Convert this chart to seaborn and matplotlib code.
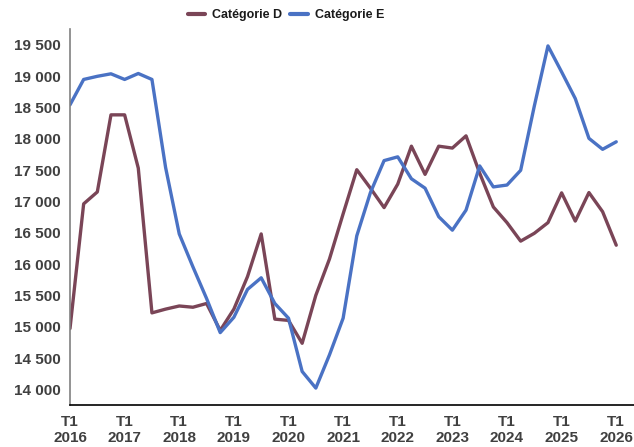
import numpy as np
import pandas as pd
import matplotlib
matplotlib.use("Agg")
import matplotlib.pyplot as plt
import seaborn as sns

# Quarterly values, T1 2016 -> T1 2026
years = list(range(2016, 2027))
cat_d = [14970, 16960, 17150, 18380, 18380, 17530, 15220, 15280, 15330, 15310,
         15370, 14940, 15280, 15800, 16480, 15120, 15100, 14735, 15500, 16080,
         16800, 17505, 17210, 16900, 17275, 17880, 17430, 17880, 17850, 18045,
         17450, 16910, 16660, 16365, 16490, 16660, 17135, 16685, 17140, 16835,
         16300]
cat_e = [18540, 18945, 18995, 19035, 18945, 19040, 18945, 17540, 16480, 15955,
         15450, 14905, 15150, 15595, 15780, 15370, 15135, 14285, 14020, 14550,
         15135, 16450, 17140, 17650, 17710, 17360, 17210, 16755, 16540, 16860,
         17565, 17230, 17260, 17495, 18520, 19480, 19065, 18640, 18005, 17830,
         17950]

df = pd.DataFrame({
    "q": np.arange(len(cat_d)),
    "Catégorie D": cat_d,
    "Catégorie E": cat_e,
}).melt(id_vars="q", var_name="serie", value_name="valeur")

sns.set_style("white")
plt.rcParams["font.family"] = ["Liberation Sans", "DejaVu Sans"]

fig = plt.figure(figsize=(6.34, 4.47), dpi=100)
ax = fig.add_axes([70 / 634, 1 - 405 / 447, (634 - 70) / 634, (405 - 29) / 447])

sns.lineplot(data=df, x="q", y="valeur", hue="serie", ax=ax,
             palette={"Catégorie D": "#7A4557", "Catégorie E": "#4A72C4"},
             linewidth=2.4, legend=True)

ax.set_xlim(0, 41.3)
ax.set_ylim(13750, 19750)
ax.set_xticks(np.arange(0, 41, 4))
ax.set_xticklabels([f"T1\n{y}" for y in years])
yt = np.arange(14000, 19501, 500)
ax.set_yticks(yt)
ax.set_yticklabels([f"{v:,}".replace(",", " ") for v in yt])
ax.set_xlabel("")
ax.set_ylabel("")

for lab in ax.get_xticklabels() + ax.get_yticklabels():
    lab.set_fontweight("bold")
    lab.set_fontsize(11)
    lab.set_color("#404040")
ax.tick_params(axis="x", direction="out", length=4, width=0.8, color="black", pad=3)
ax.tick_params(axis="y", direction="out", length=4, width=0.8, color="#808080", pad=3)

for s in ["top", "right"]:
    ax.spines[s].set_visible(False)
ax.spines["left"].set_color("#808080")
ax.spines["left"].set_linewidth(1.2)
ax.spines["bottom"].set_color("black")
ax.spines["bottom"].set_linewidth(1.2)

handles, labels = ax.get_legend_handles_labels()
ax.get_legend().remove()
leg = fig.legend(handles, labels, loc="center", bbox_to_anchor=(286 / 634, 1 - 15 / 447),
                 ncol=2, frameon=False, handlelength=1.4, handletextpad=0.6,
                 columnspacing=0.6, prop={"weight": "bold", "size": 9})
for line in leg.get_lines():
    line.set_linewidth(3)
for t in leg.get_texts():
    t.set_color("#1a1a1a")

fig.savefig("out.png", dpi=100)
